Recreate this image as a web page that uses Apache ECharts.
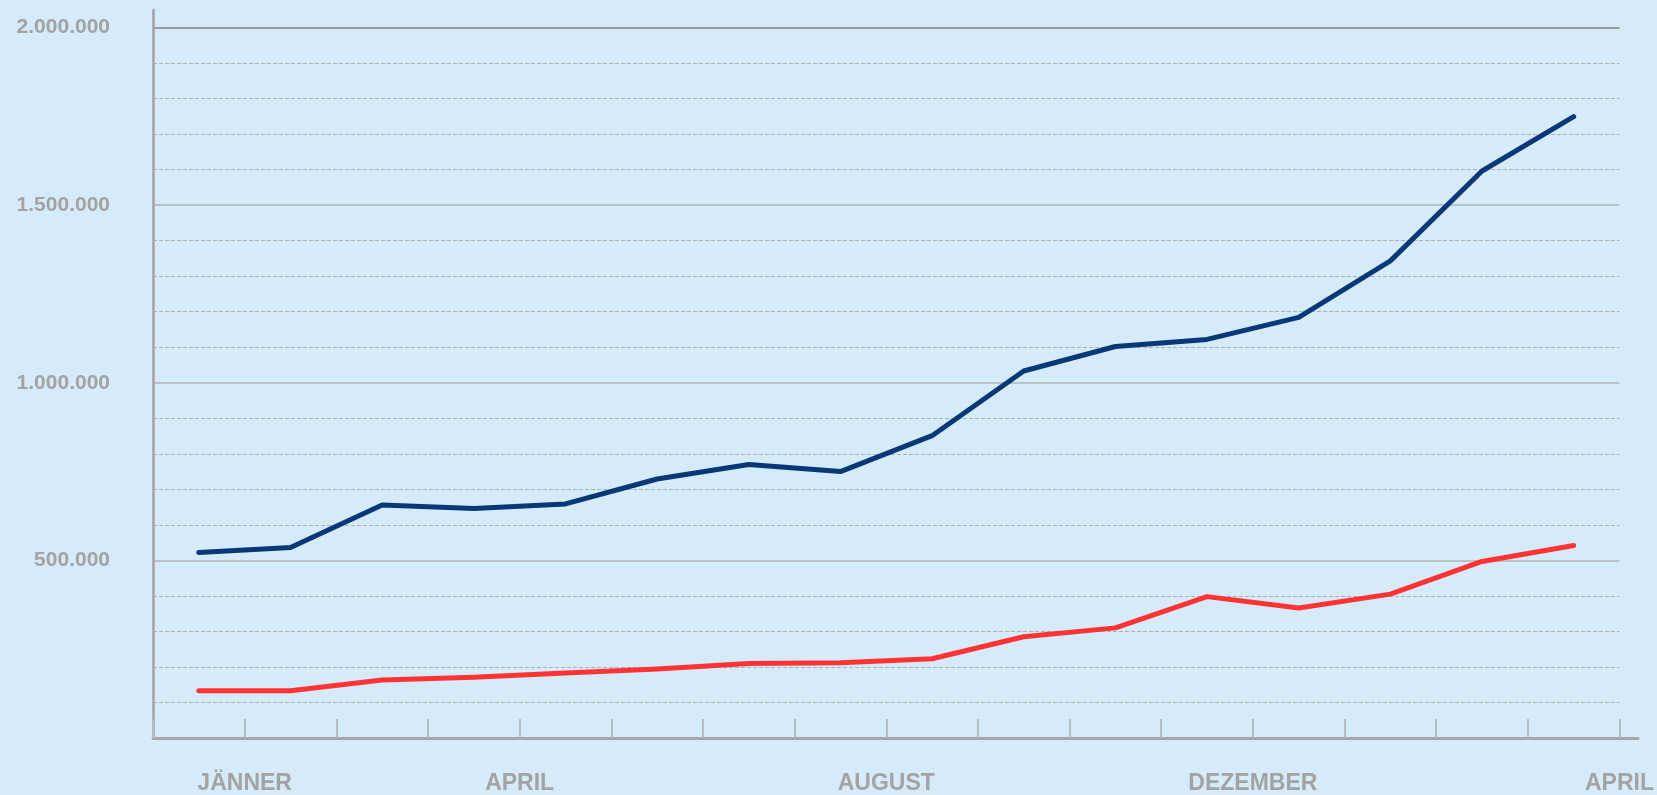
<!DOCTYPE html>
<html>
<head>
<meta charset="utf-8">
<script src="https://cdn.jsdelivr.net/npm/echarts@6/dist/echarts.min.js"></script>
<style>
html,body{margin:0;padding:0;background:#d5ebf9;}
#chart{width:1657px;height:795px;}
</style>
</head>
<body>
<div id="chart"></div>
<script>
// 16 monthly points (mid-month), ticks at month boundaries
var blueValues = [522000, 536000, 656000, 646000, 659000, 729000, 770000, 750000, 851000, 1033000, 1102000, 1122000, 1184000, 1343000, 1596000, 1749000];
var redValues  = [133000, 133000, 163000, 171000, 183000, 194000, 210000, 212000, 223000, 285000, 310000, 398000, 366000, 405000, 497000, 542000];
// labels for tick boundaries 0..16
var xTickLabels = ['', 'JÄNNER', '', '', 'APRIL', '', '', '', 'AUGUST', '', '', '', 'DEZEMBER', '', '', '', 'APRIL'];
var yTickLabels = ['', '500.000', '1.000.000', '1.500.000', '2.000.000'];

function toPoints(arr) {
  return arr.map(function (v, i) { return [i + 0.5, v]; });
}

var chart = echarts.init(document.getElementById('chart'), null, {renderer: 'canvas'});
var labelFont = {fontFamily: 'Liberation Sans, Arial, sans-serif', fontWeight: 'bold', color: '#a3a3a3'};

chart.setOption({
  backgroundColor: '#d5ebf9',
  animation: false,
  grid: [
    {left: 153, right: 37, top: 27.5, bottom: 57, containLabel: false},
    {left: 153, right: 19, top: 10, bottom: 57, containLabel: false}
  ],
  xAxis: [
    {
      gridIndex: 0, type: 'value', min: 0, max: 16, interval: 1,
      axisLine: {show: false},
      axisTick: {show: true, inside: true, length: 19, lineStyle: {color: '#b3bcc1', width: 2}},
      splitLine: {show: false},
      axisLabel: Object.assign({
        fontSize: 23, margin: 34,
        formatter: function (v) { return xTickLabels[Math.round(v)] || ''; }
      }, labelFont)
    },
    {
      gridIndex: 1, type: 'value', min: 0, max: 1,
      axisLine: {show: true, lineStyle: {color: '#a6a6a6', width: 3}},
      axisTick: {show: false}, axisLabel: {show: false}, splitLine: {show: false}
    }
  ],
  yAxis: [
    {
      gridIndex: 0, type: 'value', min: 0, max: 2000000, interval: 500000,
      axisLine: {show: false},
      axisTick: {show: false},
      axisLabel: Object.assign({
        fontSize: 21, margin: 43,
        formatter: function (v) { return yTickLabels[Math.round(v / 500000)] || ''; }
      }, labelFont),
      splitLine: {show: true, lineStyle: {color: ['#b9c3c9', '#b9c3c9', '#b9c3c9', '#b9c3c9', '#9c9c9c'], width: 2}},
      minorTick: {show: false, splitNumber: 5},
      minorSplitLine: {show: true, lineStyle: {color: '#b0b0b0', width: 1, type: [4, 2]}}
    },
    {
      gridIndex: 1, type: 'value', min: 0, max: 1,
      axisLine: {show: true, lineStyle: {color: '#a3a3a3', width: 2.5}},
      axisTick: {show: false}, axisLabel: {show: false}, splitLine: {show: false}
    }
  ],
  series: [
    {
      name: 'blue', type: 'line', xAxisIndex: 0, yAxisIndex: 0,
      data: toPoints(blueValues), symbol: 'none', z: 5,
      lineStyle: {color: '#083877', width: 5, cap: 'round', join: 'round'}
    },
    {
      name: 'red', type: 'line', xAxisIndex: 0, yAxisIndex: 0,
      data: toPoints(redValues), symbol: 'none', z: 4,
      lineStyle: {color: '#ff3333', width: 5, cap: 'round', join: 'round'}
    }
  ]
});
</script>
</body>
</html>
